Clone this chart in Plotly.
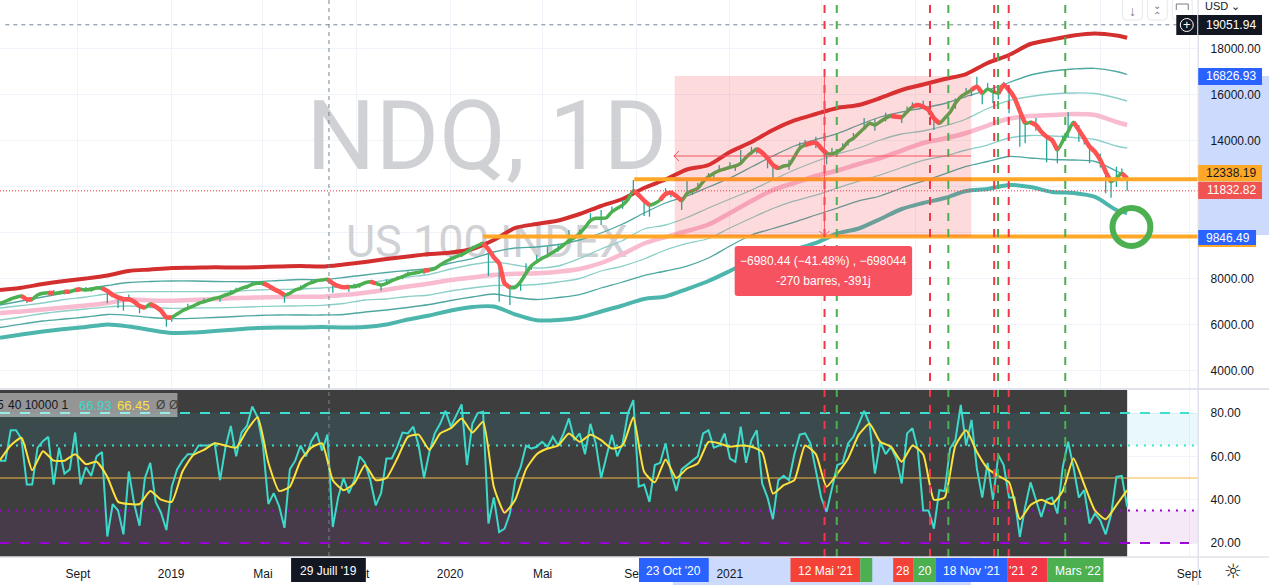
import pandas as pd
import plotly.graph_objects as go

W, H = 1273, 585
FONT = "Liberation Sans"

# ---------- time base ----------
WEEK_DATES = pd.date_range("2018-05-22", "2022-06-05", periods=211)
MA_DATES = list(WEEK_DATES[::4]) + [WEEK_DATES[-1]]
SIGNAL_DATES = WEEK_DATES[::2]

TICK_DATES = ["2018-09-01", "2019-01-01", "2019-05-01", "2019-09-01", "2020-01-01", "2020-05-01",
              "2020-09-01", "2021-01-01", "2021-05-01", "2021-09-01", "2022-01-01", "2022-05-01", "2022-08-25"]
TICK_TEXT = ["Sept", "2019", "Mai", "Sept", "2020", "Mai", "Sept", "2021", "", "", "", "", "Sept"]
PRICE_TICKS = [4000, 6000, 8000, 10000, 12000, 14000, 16000, 18000]
PRICE_TICK_TEXT = ["4000.00", "6000.00", "8000.00", "", "", "14000.00", "16000.00", "18000.00"]
RSI_TICKS = [20, 40, 60, 80]

# ---------- price, sampled weekly ----------
PRICE = [
    6942, 7029, 7130, 7204, 7260, 7117, 7117, 7303, 7377, 7403,
    7377, 7403, 7447, 7447, 7521, 7551, 7521, 7551, 7608, 7595,
    7477, 7303, 7204, 7117, 7117, 7012, 6825, 6751, 6912, 6795,
    6621, 6334, 6334, 6477, 6621, 6725, 6825, 6942, 7012, 7086,
    7160, 7204, 7303, 7377, 7490, 7595, 7664, 7769, 7812, 7812,
    7708, 7564, 7447, 7303, 7377, 7521, 7595, 7738, 7838, 7925,
    7956, 7986, 7812, 7695, 7638, 7664, 7664, 7738, 7838, 7882,
    7812, 7738, 7812, 7925, 8012, 8099, 8204, 8247, 8290, 8360,
    8390, 8447, 8608, 8751, 8869, 8969, 9056, 9186, 9334, 9447,
    9551, 9291, 8943, 8682, 7812, 7638, 7638, 7882, 8247, 8577,
    8751, 8899, 9012, 9160, 9304, 9477, 9665, 9795, 9986, 10247,
    10534, 10638, 10638, 10664, 10925, 11073, 11217, 11464, 11838, 11651,
    11404, 11217, 11290, 11434, 11695, 11751, 11608, 11404, 11725, 11838,
    11943, 12230, 12447, 12595, 12708, 12782, 12856, 12912, 13030, 13291,
    13491, 13652, 13491, 13247, 12956, 12812, 12912, 12956, 13317, 13682,
    13825, 13899, 13925, 13682, 13465, 13434, 13534, 13682, 13969, 14117,
    14334, 14552, 14769, 14695, 14839, 14986, 15086, 15056, 15030, 15273,
    15491, 15565, 15491, 15347, 14986, 14769, 14986, 15247, 15638, 15925,
    16073, 16217, 16360, 16073, 16260, 16143, 16073, 16434, 16217, 15882,
    15304, 14769, 14812, 14695, 14404, 14186, 14043, 13608, 13999, 14404,
    14812, 14478, 14117, 13752, 13534, 13173, 12665, 12230, 12377, 12595, 12377,
]
RED_RUN_START = [4, 9, 12, 14, 19, 28, 49, 61, 69, 79, 90, 118, 123, 141, 150, 166, 170, 181, 186, 192, 200, 209]
RED_RUN_END = [6, 10, 13, 15, 27, 32, 53, 65, 70, 80, 95, 121, 127, 145, 154, 168, 175, 183, 191, 197, 207, 210]

LOW_WEEK = [5, 20, 22, 23, 26, 31, 32, 41, 53, 62, 65, 71, 79, 91, 93, 95, 97, 106, 112, 120, 121, 127, 143, 144,
            154, 168, 174, 183, 185, 188, 190, 191, 195, 197, 201, 203, 206, 207, 210,
            12, 17, 28, 37, 46, 49, 57, 67, 75, 86, 99, 104, 108, 116, 125, 129, 133, 137, 141, 147, 152, 158,
            163, 165, 173, 178, 181, 186, 193, 199, 202, 205, 208]
LOW_VALUE = [6956, 6942, 6738, 6621, 6508, 5925, 6143, 7012, 6969, 7403, 7447, 7490, 8204, 8130, 7012, 6869, 7490,
             9521, 10347, 10738, 10708, 11000, 12812, 12260, 12986, 14782, 14478, 15595, 15638, 15204, 13752, 13899,
             13073, 13030, 13969, 13030, 11725, 11534, 11838,
             7330, 7440, 6760, 6850, 7560, 7690, 7640, 7620, 7990, 8950, 8400, 9180, 9800, 11050, 11550, 11650,
             12400, 12700, 13450, 12750, 13700, 13800, 14450, 14850, 15150, 15400, 15950, 15800, 14450, 14150,
             13850, 12850, 12000]
HIGH_WEEK = [43, 72, 98, 102, 106, 110, 112, 118, 128, 132, 138, 150, 155, 161, 170, 182, 187, 199, 208,
             10, 16, 24, 35, 38, 44, 47, 56, 58, 66, 74, 76, 84, 88, 100, 104, 108, 114, 116, 124, 130, 134, 136,
             140, 147, 149, 152, 157, 159, 163, 165, 169, 172, 178, 180, 184, 193, 198, 201, 205, 209]
HIGH_VALUE = [7521, 7986, 8682, 9404, 10130, 10856, 11000, 12304, 12273, 12608, 13608, 14043, 13695, 14999, 15682,
              16795, 16578, 15247, 12882,
              7520, 7650, 7320, 6920, 7150, 7620, 7900, 7720, 7960, 7790, 8120, 8330, 8990, 9450, 9050, 9480, 10150,
              11150, 11420, 11950, 12180, 12950, 13080, 13750, 13180, 13950, 14180, 13900, 14350, 14950, 15230,
              15500, 15750, 15850, 16300, 16520, 15000, 14250, 14700, 13450, 12800]

# ---------- moving averages ----------
MA_RED = [7521, 7621, 7782, 7912, 8021, 8151, 8347, 8412, 8477, 8490, 8508, 8499, 8512, 8543, 8564, 8543, 8630, 8738,
          8869, 8977, 9086, 9151, 9304, 9695, 10217, 10390, 10543, 10825, 11173, 11478, 11956, 12325, 12760, 12956,
          13521, 13956, 14478, 14891, 15173, 15434, 15565, 15869, 16217, 16456, 16695, 16912, 17391, 17739, 18217,
          18413, 18586, 18673, 18586, 18491]
MA_T1 = [6869, 7043, 7216, 7390, 7564, 7716, 7847, 7890, 7912, 7912, 7890, 7882, 7882, 7934, 7977, 7977, 8064, 8173,
         8282, 8369, 8456, 8695, 8890, 9173, 9347, 9390, 9499, 9695, 9999, 10390, 10869, 11304, 11608, 11999, 12391,
         12869, 13347, 13782, 14064, 14325, 14695, 15043, 15260, 15434, 15630, 15934, 16217, 16543, 16869, 17043,
         17130, 17160, 17021, 16891]
MA_T2 = [6738, 6847, 6956, 7108, 7216, 7347, 7442, 7447, 7447, 7447, 7447, 7477, 7521, 7543, 7564, 7608, 7673, 7803,
         7956, 8086, 8195, 8434, 8630, 8738, 8608, 8477, 8564, 8890, 9304, 9673, 10173, 10347, 10673, 11086, 11478,
         11869, 12304, 12738, 13108, 13434, 13695, 14043, 14304, 14434, 14652, 14956, 15412, 15760, 15934, 16043,
         16086, 16065, 15869, 15738]
MA_PINK = [6521, 6586, 6673, 6760, 6847, 6956, 7108, 7064, 7055, 7086, 7130, 7173, 7195, 7216, 7229, 7229, 7303, 7403,
           7534, 7673, 7803, 7956, 8064, 8173, 8225, 8247, 8317, 8434, 8695, 9086, 9543, 9825, 10086, 10369, 10869,
           11391, 11869, 12173, 12478, 12717, 13000, 13260, 13586, 13912, 14108, 14347, 14673, 14978, 15086, 15130,
           15173, 15130, 14825, 14695]
MA_T3 = [6216, 6347, 6499, 6608, 6695, 6790, 6825, 6760, 6725, 6738, 6747, 6769, 6795, 6816, 6834, 6855, 6934, 7086,
         7130, 7238, 7303, 7477, 7608, 7716, 7716, 7760, 7869, 8021, 8347, 8564, 8869, 9260, 9543, 9760, 10217,
         10651, 11064, 11391, 11651, 11956, 12260, 12521, 12847, 13152, 13347, 13608, 13825, 14130, 14239, 14217,
         14152, 14064, 13782, 13695]
MA_T4 = [5890, 6042, 6173, 6260, 6347, 6456, 6421, 6325, 6273, 6290, 6325, 6369, 6412, 6434, 6434, 6434, 6456, 6564,
         6651, 6760, 6890, 7064, 7216, 7347, 7195, 7108, 7195, 7325, 7608, 7869, 8151, 8347, 8564, 8912, 9434,
         9912, 10195, 10477, 10782, 11086, 11391, 11608, 11956, 12260, 12565, 12891, 13108, 13325, 13260, 13195,
         13173, 13108, 12695, 12478]
MA_TEAL = [5447, 5586, 5716, 5825, 5912, 6021, 5934, 5782, 5651, 5673, 5738, 5803, 5869, 5890, 5890, 5912, 5890, 5912,
           6021, 6238, 6412, 6630, 6782, 6803, 6456, 6204, 6216, 6325, 6586, 6847, 7130, 7238, 7564, 7912, 8347,
           8804, 9086, 9282, 9565, 9977, 10195, 10608, 11043, 11304, 11521, 11825, 11912, 12086, 11999, 11782,
           11739, 11565, 10999, 10869]

# ---------- RSI pane ----------
RSI = [
    58, 58, 72, 72, 68, 47, 47, 64, 67, 69,
    47, 64, 52, 54, 71, 47, 55, 51, 60, 62,
    23, 38, 35, 24, 53, 38, 28, 50, 57, 39,
    34, 26, 46, 54, 58, 61, 61, 65, 65, 65,
    66, 49, 64, 74, 60, 71, 74, 83, 78, 65,
    38, 43, 37, 27, 54, 58, 65, 60, 67, 71,
    62.6, 70, 27.4, 41, 50, 43, 49, 60, 57, 49,
    37.4, 43, 59, 59, 64.4, 71, 70.6, 73.7, 65, 50,
    62, 70.6, 75, 81, 73.7, 79, 84, 56, 75, 80,
    80.6, 29, 41, 25, 26.6, 33.6, 49, 55, 65, 63.6,
    64.4, 66.7, 64.4, 69, 65, 70.6, 77.5, 67.5, 70.6, 61,
    75, 66, 50, 60, 70, 60, 66, 80, 86,
    46, 47, 39, 56, 57, 66, 53, 44, 54, 56,
    58, 60, 70.6, 72, 64, 65, 70.6, 59, 57.5, 73.7,
    57, 67.5, 72, 47.5, 41, 31, 49, 51, 49, 61,
    70, 70.6, 66, 53.6, 41, 34.4, 46, 56, 57, 66,
    69, 75, 81, 75, 52, 66.7, 61, 64.4, 59, 47.5,
    70.6, 73, 63, 35, 35, 26.6, 44.4, 44, 63.6, 67.5,
    83.7, 65, 76.8, 54.4, 41, 57, 40, 60.6, 56, 41,
    41, 22.8, 36.7, 48, 40, 32, 40, 41, 33.6, 55,
    66.7, 55, 41, 44.4, 29, 33.6, 30.5, 24, 33, 50.5, 51, 36.7,
]
RSI_SIGNAL = [
    58.3, 65, 68.6, 53.6, 62.4, 58, 58, 61, 56.4, 57.5,
    50.5, 39, 38, 38, 44, 40, 39, 53, 60.6, 63,
    66, 65, 64, 72, 78, 57, 44, 46, 58, 64,
    66, 49, 44.4, 47.5, 56, 49, 50, 59, 69, 70,
    63, 70.6, 73, 77.5, 71, 76, 46, 34, 40, 54,
    61, 63.6, 65, 70.6, 66.7, 70, 67.5, 63.6, 65, 78,
    52.9, 48, 58.6, 50, 54.4, 56.7, 66.7, 66, 64.4, 65,
    64.4, 62, 42.8, 46.7, 49, 65, 61, 46, 52, 59,
    70, 75, 66.7, 64.4, 57.5, 65, 61, 40, 41, 65,
    72, 62, 54.4, 51, 48, 31, 37.5, 40, 38, 44,
    59, 47, 35, 31, 37.5, 44.4,
]
RSI_LEVELS_DASH = [80, 20]
RSI_LEVELS_DOT = [65, 35]

# ---------- drawings ----------
LEVEL_TOP = 12338.19
LEVEL_BOTTOM = 9846.49
LEVEL_HIGH = 16826.93
LEVEL_LAST = 11832.82
LEVEL_CROSS = 19051.94
RED_SIGNALS = ["2021-05-05", "2021-09-20", "2021-12-13", "2022-01-01"]
GREEN_SIGNALS = ["2021-05-21", "2021-10-14", "2021-12-18", "2022-03-16"]

assert len(PRICE) == 211 and len(RSI) == 211 and len(RSI_SIGNAL) == 106
assert all(len(s) == 54 for s in [MA_RED, MA_T1, MA_T2, MA_PINK, MA_T3, MA_T4, MA_TEAL])
assert len(LOW_WEEK) == len(LOW_VALUE) and len(HIGH_WEEK) == len(HIGH_VALUE)

X_START, X_END = "2018-05-22", "2022-09-06"
Y_TOP = [3260, 20130]
Y_RSI = [13.55, 91.08]


def px(x):
    return x / W


def py(y):
    return 1 - y / H


fig = go.Figure()

# watermark, drawn first so every line passes over it
fig.add_trace(go.Scatter(x=["2020-02-18"], y=[13825], mode="text", text=["NDQ, 1D"], yaxis="y",
                         textfont=dict(family="Roboto", size=97, color="#d0d1d5"), textposition="middle center"))
fig.add_trace(go.Scatter(x=["2020-02-18"], y=[9434], mode="text", text=["US 100 INDEX"], yaxis="y",
                         textfont=dict(family="Roboto", size=45, color="#d0d1d5"), textposition="middle center"))

for series, color, width in [(MA_TEAL, "#4db6ac", 4), (MA_T4, "#4fa8a0", 1.3), (MA_T3, "#8ccfc8", 1.3),
                             (MA_PINK, "#f8bbd0", 4.5), (MA_T2, "#8ccfc8", 1.3), (MA_T1, "#4fa8a0", 1.3),
                             (MA_RED, "#d32f2f", 4)]:
    fig.add_trace(go.Scatter(x=MA_DATES, y=series, mode="lines", yaxis="y",
                             line=dict(color=color, width=width, shape="spline", smoothing=0.8)))

wx, wy = [], []
for weeks, values in [(LOW_WEEK, LOW_VALUE), (HIGH_WEEK, HIGH_VALUE)]:
    for w, v in zip(weeks, values):
        wx += [WEEK_DATES[w], WEEK_DATES[w], None]
        wy += [PRICE[w], v, None]
fig.add_trace(go.Scatter(x=wx, y=wy, mode="lines", yaxis="y", line=dict(color="#26a69a", width=1.3)))

fig.add_trace(go.Scatter(x=WEEK_DATES, y=PRICE, mode="lines", yaxis="y",
                         line=dict(color="#4caf50", width=3.5, shape="spline", smoothing=0.6)))
rx, ry = [], []
for a, b in zip(RED_RUN_START, RED_RUN_END):
    rx += list(WEEK_DATES[a:b + 1]) + [None]
    ry += PRICE[a:b + 1] + [None]
fig.add_trace(go.Scatter(x=rx, y=ry, mode="lines", yaxis="y",
                         line=dict(color="#ff5252", width=4.5, shape="spline", smoothing=0.6)))

fig.add_trace(go.Scatter(x=WEEK_DATES, y=RSI, mode="lines", yaxis="y2", line=dict(color="#3dd9cb", width=2)))
fig.add_trace(go.Scatter(x=SIGNAL_DATES, y=RSI_SIGNAL, mode="lines", yaxis="y2",
                         line=dict(color="#fde23c", width=2, shape="spline", smoothing=0.5)))

shapes = []
ann = []


def rounded(x0, y0, x1, y1, r):
    X0, X1, Y0, Y1 = px(x0), px(x1), py(y0), py(y1)
    rx_, ry_ = r / W, r / H
    return (f"M{X0 + rx_},{Y0} L{X1 - rx_},{Y0} Q{X1},{Y0} {X1},{Y0 - ry_} L{X1},{Y1 + ry_} Q{X1},{Y1} {X1 - rx_},{Y1} "
            f"L{X0 + rx_},{Y1} Q{X0},{Y1} {X0},{Y1 + ry_} L{X0},{Y0 - ry_} Q{X0},{Y0} {X0 + rx_},{Y0} Z")


def box(x0, y0, x1, y1, fill, layer="above", line=None):
    shapes.append(dict(type="rect", xref="paper", yref="paper", x0=px(x0), x1=px(x1), y0=py(y0), y1=py(y1),
                       fillcolor=fill, line=dict(width=0) if line is None else line, layer=layer))


def seg(x0, y0, x1, y1, color, width=1, dash="solid"):
    shapes.append(dict(type="line", xref="paper", yref="paper", x0=px(x0), x1=px(x1), y0=py(y0), y1=py(y1),
                       line=dict(color=color, width=width, dash=dash), layer="above"))


def note(x, y, text, color="#131722", size=12, anchor="center", family=FONT):
    ann.append(dict(xref="paper", yref="paper", x=px(x), y=py(y), text=text, showarrow=False, xanchor=anchor,
                    yanchor="middle", font=dict(family=family, size=size, color=color)))


# selection bands in the scales, under the tick labels
box(1202, 76, 1273, 235, "#cbdafd", layer="below")
box(675, 557, 974, 585, "#cbdafd", layer="below")

# RSI pane: dark backdrop, zones, levels (between grid and traces)
shapes.append(dict(type="rect", xref="x", yref="y2", x0=X_START, x1=str(WEEK_DATES[-1].date()), y0=Y_RSI[0], y1=Y_RSI[1],
                   fillcolor="rgba(56,56,56,0.97)", line=dict(width=0), layer="between"))
shapes.append(dict(type="rect", xref="x", yref="y2", x0=X_START, x1=X_END, y0=65, y1=80,
                   fillcolor="rgba(38,198,218,0.10)", line=dict(width=0), layer="between"))
shapes.append(dict(type="rect", xref="x", yref="y2", x0=X_START, x1=X_END, y0=20, y1=35,
                   fillcolor="rgba(156,39,176,0.10)", line=dict(width=0), layer="between"))
LEVEL_END = "2022-08-25"
for lvl, col in zip(RSI_LEVELS_DASH, ["#3de0d0", "#9c00d8"]):
    shapes.append(dict(type="line", xref="x", yref="y2", x0=X_START, x1=LEVEL_END, y0=lvl, y1=lvl,
                       line=dict(color=col, width=2, dash="10px,10px"), layer="between"))
for lvl, col in zip(RSI_LEVELS_DOT, ["#3de0d0", "#9c00d8"]):
    shapes.append(dict(type="line", xref="x", yref="y2", x0=X_START, x1=X_END, y0=lvl, y1=lvl,
                       line=dict(color=col, width=2, dash="2px,6px"), layer="between"))
shapes.append(dict(type="line", xref="x", yref="y2", x0=X_START, x1=X_END, y0=50, y1=50,
                   line=dict(color="#f5b942", width=1.2), layer="between"))

# crosshair and last price
shapes.append(dict(type="line", xref="x", yref="y", x0="2018-05-29", x1=X_END, y0=LEVEL_CROSS, y1=LEVEL_CROSS,
                   line=dict(color="#758696", width=1, dash="4px,4px"), layer="above"))
seg(330, 0, 330, 557, "#758696", 1, "4px,4px")
shapes.append(dict(type="line", xref="x", yref="y", x0=X_START, x1=X_END, y0=LEVEL_LAST, y1=LEVEL_LAST,
                   line=dict(color="#f23645", width=1, dash="1px,2px"), layer="above"))

# orange levels, then the translucent measure block over them
shapes.append(dict(type="line", xref="x", yref="y", x0="2020-08-29", x1=X_END, y0=LEVEL_TOP, y1=LEVEL_TOP,
                   line=dict(color="#ffa726", width=4), layer="above"))
shapes.append(dict(type="line", xref="x", yref="y", x0="2020-02-13", x1=X_END, y0=LEVEL_BOTTOM, y1=LEVEL_BOTTOM,
                   line=dict(color="#ffa726", width=4), layer="above"))
shapes.append(dict(type="rect", xref="x", yref="y", x0="2020-10-21", x1="2021-11-13", y0=LEVEL_BOTTOM, y1=LEVEL_HIGH,
                   fillcolor="rgba(242,54,69,0.18)", line=dict(width=0), layer="above"))

# signals
for dates, col in [(RED_SIGNALS, "#f23645"), (GREEN_SIGNALS, "#4caf50")]:
    for d in dates:
        shapes.append(dict(type="line", xref="x", yref="paper", x0=d, x1=d, y0=py(557), y1=1,
                           line=dict(color=col, width=2, dash="8px,8px"), layer="above"))

# measure arrows
seg(827, 76, 827, 236, "#f7525f")
seg(822, 231, 827, 236, "#f7525f")
seg(832, 231, 827, 236, "#f7525f")
seg(676, 156, 974, 156, "#f7525f")
seg(681, 151, 676, 156, "#f7525f")
seg(681, 161, 676, 156, "#f7525f")

# measure tooltip
shapes.append(dict(type="path", xref="paper", yref="paper", path=rounded(737, 246, 915, 296, 3),
                   fillcolor="#f7525f", line=dict(width=0), layer="above"))
note(826, 261, "−6980.44 (−41.48%) , −698044", "white", 12)
note(826, 281, "-270 barres, -391j", "white", 12)

# green target ring
shapes.append(dict(type="circle", xref="paper", yref="paper", x0=px(1116), x1=px(1154), y0=py(208), y1=py(246),
                   line=dict(color="#4caf50", width=6), layer="above"))

# pane separators
seg(0, 389, 1273, 389, "#e0e3eb", 2)
seg(0, 557, 1273, 557, "#e0e3eb", 1.5)
seg(1202, 0, 1202, 585, "#e0e3eb", 1.5)

# indicator legend
box(0, 393, 178, 417, "rgba(255,255,255,0.45)")
note(6, 405, "40 10000 1", "#131722", 12, "left")
note(0, 405, "5", "#131722", 12, "center")
note(77, 405, "66.93", "#3dd9cb", 13, "left")
note(115, 405, "66.45", "#fde23c", 13, "left")
note(154, 405, "Ø", "#404040", 12, "left")
note(168, 405, "Ø", "#404040", 12, "left")

# price scale labels
for y0, y1, fill, label, color in [(15, 35, "#131722", "19051.94", "white"),
                                   (68, 85, "#2962ff", "16826.93", "white"),
                                   (165, 181.5, "#ffa726", "12338.19", "#131722"),
                                   (182, 199, "#f05350", "11832.82", "white"),
                                   (230, 245, "#2962ff", "9846.49", "white")]:
    box(1202, y0, 1266 if label != "9846.49" else 1260, y1, fill)
    note(1235 if label != "9846.49" else 1232, (y0 + y1) / 2, label, color, 12)
box(1202, 245, 1260, 247, "#ffa726")
note(1226, 6, "USD ⌄", "#131722", 11)

# chart buttons
for x0, x1 in [(1126, 1146), (1151, 1171), (1176, 1196)]:
    shapes.append(dict(type="path", xref="paper", yref="paper", path=rounded(x0, -2, x1, 20, 4),
                       fillcolor="white", line=dict(color="#e6e8ee", width=1), layer="above"))
note(1136, 11, "↓", "#787b86", 14)
note(1161, 6, "⌄", "#787b86", 10)
note(1161, 15, "⌃", "#787b86", 10)
box(1180, 15, 1201, 35, "#131722")
shapes.append(dict(type="circle", xref="paper", yref="paper", x0=px(1184), x1=px(1197), y0=py(18.5), y1=py(31.5),
                   line=dict(color="white", width=1), layer="above"))
note(1190.5, 25, "+", "white", 13)
seg(1180, 10, 1180, 4, "#787b86", 1)
seg(1180, 4, 1192, 4, "#787b86", 1)
seg(1192, 4, 1192, 10, "#787b86", 1)

# time scale tags
for x0, x1, fill, label in [(641, 711, "#2962ff", "23 Oct '20"), (793, 863, "#f44336", "12 Mai '21"),
                            (863, 875, "#4caf50", ""), (896, 916, "#f44336", "28"), (916, 939, "#4caf50", "20"),
                            (939, 1011, "#2962ff", "18 Nov '21"), (1011, 1051, "#f23645", ""),
                            (1051, 1107, "#4caf50", "Mars '22"), (292, 367, "#131722", "29 Juill '19")]:
    box(x0, 558, x1, 582, fill)
    if label:
        note((x0 + x1) / 2 + (2 if label == "Mars '22" else 0), 570.5, label, "white", 12)
note(1020, 570.5, "'21", "white", 12)
note(1038, 570.5, "2", "white", 12)
note(1237, 571, "☼", "#131722", 20, family="DejaVu Sans")

fig.update_layout(
    width=W, height=H, autosize=False, margin=dict(l=0, r=0, t=0, b=0),
    paper_bgcolor="white", plot_bgcolor="white", showlegend=False, hovermode=False,
    font=dict(family=FONT, size=12, color="#131722"),
    shapes=shapes, annotations=ann,
    xaxis=dict(type="date", domain=[0, px(1202)], range=[X_START, X_END], anchor="y2", tickmode="array",
               tickvals=TICK_DATES, ticktext=TICK_TEXT, showgrid=True, gridcolor="#f0f3fa", gridwidth=1,
               ticks="outside", ticklen=6, tickcolor="rgba(0,0,0,0)", tickangle=0, showline=False, zeroline=False),
    yaxis=dict(domain=[py(388), 1], range=Y_TOP, anchor="x", side="right", tickmode="array",
               tickvals=PRICE_TICKS, ticktext=PRICE_TICK_TEXT,
               showgrid=True, gridcolor="#f0f3fa", ticks="outside", ticklen=9, tickcolor="rgba(0,0,0,0)",
               zeroline=False, showline=False),
    yaxis2=dict(domain=[py(557), py(389)], range=Y_RSI, anchor="x", side="right", tickmode="array",
                tickvals=RSI_TICKS, tickformat=".2f", showgrid=True, gridcolor="#f0f3fa",
                ticks="outside", ticklen=9, tickcolor="rgba(0,0,0,0)", zeroline=False, showline=False),
)

fig.write_html("out.html", config={"displayModeBar": False},
               post_script="document.body.style.margin='0';document.documentElement.style.overflow='hidden';")
